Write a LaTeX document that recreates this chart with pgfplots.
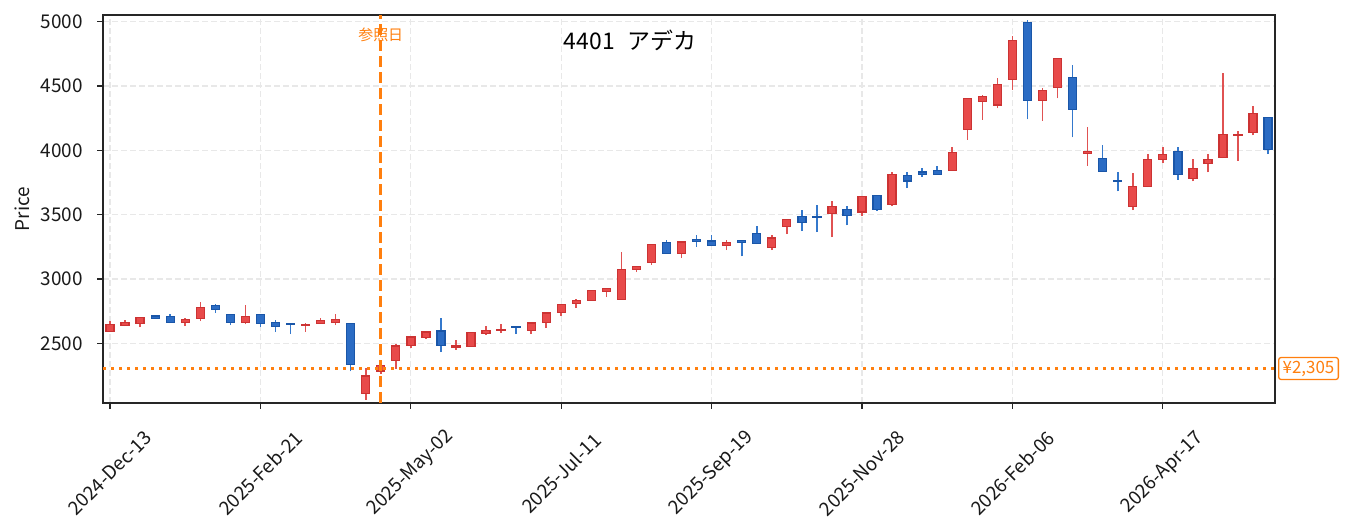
\documentclass[border=0pt]{standalone}
\usepackage{fontspec}
\setmainfont{Noto Sans CJK JP}
\usepackage{pgfplots}
\pgfplotsset{compat=1.18}
\usepackage{pgfplotstable}

\definecolor{redfill}{HTML}{E84A4A}
\definecolor{rededge}{HTML}{CC3333}
\definecolor{redwick}{HTML}{E05252}
\definecolor{bluefill}{HTML}{2B6CC4}
\definecolor{blueedge}{HTML}{1A56A8}
\definecolor{bluewick}{HTML}{3478CC}
\definecolor{refor}{HTML}{FF7F0E}

\pgfplotstableread{
i o h l c
0 2593 2671 2588 2645
1 2640 2680 2635 2660
2 2653 2708 2627 2704
3 2712 2715 2690 2695
4 2710 2725 2658 2660
5 2663 2694 2635 2685
6 2692 2818 2673 2777
7 2795 2808 2735 2765
8 2722 2725 2642 2662
9 2665 2795 2647 2707
10 2723 2725 2627 2655
11 2660 2679 2588 2632
12 2650 2650 2572 2645
13 2643 2661 2590 2646
14 2656 2700 2653 2676
15 2662 2725 2642 2684
16 2653 2655 2283 2335
17 2110 2311 2063 2246
18 2285 2342 2265 2330
19 2366 2492 2303 2479
20 2484 2552 2467 2549
21 2548 2600 2536 2588
22 2596 2694 2433 2485
23 2470 2529 2451 2480
24 2477 2587 2475 2585
25 2576 2632 2567 2598
26 2599 2647 2580 2605
27 2632 2634 2572 2623
28 2601 2660 2572 2658
29 2663 2738 2619 2736
30 2738 2808 2712 2800
31 2811 2842 2774 2834
32 2834 2917 2832 2909
33 2902 2933 2860 2925
34 2842 3214 2840 3077
35 3076 3102 3054 3100
36 3131 3274 3113 3266
37 3282 3300 3195 3197
38 3197 3289 3162 3287
39 3305 3339 3248 3293
40 3295 3339 3256 3260
41 3259 3307 3224 3282
42 3302 3304 3177 3285
43 3356 3416 3272 3274
44 3243 3346 3224 3320
45 3408 3468 3349 3465
46 3488 3533 3372 3437
47 3482 3579 3364 3479
48 3509 3610 3325 3566
49 3543 3571 3418 3492
50 3522 3646 3488 3644
51 3651 3653 3530 3540
52 3577 3835 3566 3814
53 3807 3835 3706 3761
54 3832 3866 3797 3813
55 3841 3882 3810 3813
56 3843 4030 3842 3981
57 4162 4408 4084 4405
58 4380 4433 4239 4420
59 4353 4565 4327 4513
60 4550 4891 4472 4855
61 4995 5013 4241 4387
62 4385 4485 4231 4467
63 4490 4718 4405 4715
64 4568 4664 4102 4317
65 3976 4185 3882 3990
66 3939 4045 3834 3836
67 3768 3835 3682 3762
68 3564 3828 3535 3721
69 3717 3975 3715 3931
70 3930 4030 3900 3970
71 3993 4030 3771 3812
72 3781 3934 3760 3861
73 3900 3975 3830 3931
74 3942 4602 3940 4125
75 4115 4151 3921 4125
76 4138 4348 4117 4288
77 4257 4259 3970 4006
}\candles

\pgfmathsetmacro{\yu}{388/(5052-2037)}

\pgfdeclareplotmark{candle}{%
  \pgfsetdash{}{0pt}%
  \ifdim\cbody pt<0pt
    \pgfsetstrokecolor{bluewick}%
  \else
    \pgfsetstrokecolor{redwick}%
  \fi
  \pgfsetlinewidth{1.6bp}%
  \pgfpathmoveto{\pgfpointorigin}%
  \pgfpathlineto{\pgfpoint{0pt}{\cwick bp}}%
  \pgfusepath{stroke}%
  \ifdim\cbody pt<0pt
    \pgfsetstrokecolor{blueedge}\pgfsetfillcolor{bluefill}%
  \else
    \pgfsetstrokecolor{rededge}\pgfsetfillcolor{redfill}%
  \fi
  \pgfsetlinewidth{1.3bp}%
  \pgfpathrectangle{\pgfpoint{-4bp}{\cbase bp}}{\pgfpoint{8bp}{\cbody bp}}%
  \pgfusepath{fill,stroke}%
}

\begin{document}
\begin{tikzpicture}
\useasboundingbox (0,0) rectangle (1353bp,531bp);
\begin{axis}[
  at={(103bp,128bp)}, anchor=south west,
  scale only axis, width=1172bp, height=388bp,
  xmin=-0.47, xmax=77.46, ymin=2037, ymax=5052,
  xtick={0,10,20,30,40,50,60,70},
  xticklabels={2024-Dec-13,2025-Feb-21,2025-May-02,2025-Jul-11,2025-Sep-19,2025-Nov-28,2026-Feb-06,2026-Apr-17},
  ytick={2500,3000,3500,4000,4500,5000},
  yticklabels={2500,3000,3500,4000,4500,5000},
  xtick pos=bottom, ytick pos=left,
  tick align=outside, major tick length=6bp,
  tick style={line width=1.2bp, black!85},
  axis line style={line width=1.3bp, black!85},
  grid=major,
  grid style={dash pattern=on 6bp off 3bp, line width=1.2bp, black!9},
  ticklabel style={font=\fontsize{19}{21}\selectfont, text=black!90},
  yticklabel style={anchor=east, inner sep=0pt, xshift=-14bp},
  xticklabel style={yshift=-64bp, rotate=45, anchor=center, inner sep=0pt},
  clip mode=individual,
]
\addplot[only marks, mark=candle,
  visualization depends on={\yu*(\thisrow{h}-\thisrow{l}) \as \cwick},
  visualization depends on={\yu*(\thisrow{o}-\thisrow{l}) \as \cbase},
  visualization depends on={\yu*(\thisrow{c}-\thisrow{o}) \as \cbody},
] table[x=i, y=l] {\candles};
\addplot[refor, line width=2.8bp, dash pattern=on 11bp off 5bp] coordinates {(18,2037) (18,5052)};
\addplot[refor, line width=2.6bp, dash pattern=on 2.8bp off 5.2bp] coordinates {(-0.47,2305) (77.46,2305)};
\node[text=refor, font=\fontsize{15}{17}\selectfont] at (axis cs:18,4897) {参照日};
\node[font=\fontsize{23}{25}\selectfont] at (axis cs:34.57,4858) {4401\hspace{0.55em}アデカ};
\node[anchor=west, xshift=3bp, draw=refor, line width=1.3bp, fill=white, rounded corners=2.5bp,
  text=refor, font=\fontsize{17}{19}\selectfont, inner xsep=4bp, inner ysep=2bp, minimum height=22bp]
  at (axis cs:77.46,2305) {¥2,305};
\end{axis}
\node[rotate=90, font=\fontsize{19}{21}\selectfont, text=black!90] at (22bp,322bp) {Price};
\end{tikzpicture}
\end{document}
